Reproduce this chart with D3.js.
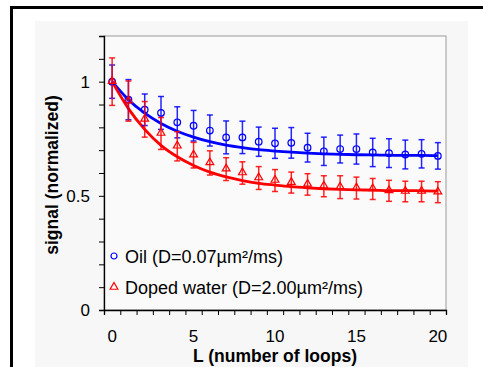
<!DOCTYPE html>
<html>
<head>
<meta charset="utf-8">
<script src="https://cdn.jsdelivr.net/npm/d3@7/dist/d3.min.js"></script>
<style>
  html, body { margin: 0; padding: 0; background: #fff; }
  svg { display: block; font-family: "Liberation Sans", Arial, sans-serif; }
</style>
</head>
<body>
<svg id="chart" width="483" height="367"></svg>
<script>
// loops
const loops = d3.range(0, 21);

// measured signal, oil
const oilValues = [1.0, 0.921, 0.877, 0.863, 0.822, 0.807, 0.786, 0.756, 0.756, 0.737, 0.730,
  0.732, 0.711, 0.695, 0.705, 0.705, 0.690, 0.687, 0.681, 0.684, 0.675];
const oilErrors = [0.073, 0.088, 0.069, 0.072, 0.068, 0.067, 0.068, 0.072, 0.071, 0.064, 0.066,
  0.067, 0.063, 0.062, 0.061, 0.066, 0.062, 0.063, 0.063, 0.062, 0.058];
const oilFit = [1.0, 0.921, 0.862, 0.817, 0.783, 0.757, 0.737, 0.722, 0.711, 0.702, 0.696,
  0.691, 0.687, 0.684, 0.682, 0.680, 0.679, 0.678, 0.677, 0.677, 0.676];

// measured signal, doped water
const waterValues = [1.0, 0.915, 0.835, 0.773, 0.717, 0.678, 0.644, 0.617, 0.600, 0.578, 0.567,
  0.558, 0.550, 0.542, 0.538, 0.534, 0.530, 0.522, 0.519, 0.519, 0.516];
const waterErrors = [0.104, 0.088, 0.078, 0.070, 0.064, 0.056, 0.053, 0.050, 0.049, 0.050, 0.048,
  0.046, 0.047, 0.046, 0.050, 0.048, 0.046, 0.046, 0.045, 0.045, 0.046];
const waterFit = [1.0, 0.882, 0.791, 0.721, 0.671, 0.633, 0.604, 0.583, 0.567, 0.555, 0.547,
  0.540, 0.535, 0.531, 0.528, 0.526, 0.525, 0.523, 0.523, 0.522, 0.521];

const xTickLabels = [0, 5, 10, 15, 20];
const yTickLabels = [0, 0.5, 1];

const series = [
  {name: 'Oil (D=0.07\u00b5m\u00b2/ms)', values: oilValues, errors: oilErrors, fit: oilFit, color: '#0000ff', marker: 'circle'},
  {name: 'Doped water (D=2.00\u00b5m\u00b2/ms)', values: waterValues, errors: waterErrors, fit: waterFit, color: '#ff0000', marker: 'triangle'}
];

const margin = {top: 36, right: 37, bottom: 57, left: 104};
const width = 483, height = 367;
const innerWidth = width - margin.left - margin.right;
const innerHeight = height - margin.top - margin.bottom;

const svg = d3.select('#chart');

// frame and panel
svg.append('rect')
  .attr('x', 35).attr('y', 21).attr('width', 433).attr('height', 346)
  .attr('fill', '#f7f7f7');
svg.append('path')
  .attr('d', `M11.5,${height}V7.5H${width}`)
  .attr('fill', 'none').attr('stroke', '#000').attr('stroke-width', 3);

const xScale = d3.scaleLinear().domain([-0.5, 20.5]).range([0, innerWidth]);
const yScale = d3.scaleLinear().domain([0, 1.2]).range([innerHeight, 0]);

const g = svg.append('g')
  .attr('transform', `translate(${margin.left},${margin.top})`);

g.append('rect')
  .attr('width', innerWidth).attr('height', innerHeight)
  .attr('fill', '#fafafa')
  .attr('stroke', '#9a9a9a').attr('stroke-width', 1);

// y axis with minor ticks
const yAxis = g.append('g')
  .call(d3.axisLeft(yScale).tickValues(d3.range(0, 12).map(d => d / 10)).tickSize(5).tickFormat(''));

// x axis, ticks between categories
const xAxis = g.append('g')
  .attr('transform', `translate(0,${innerHeight})`)
  .call(d3.axisBottom(xScale).tickValues(d3.range(-0.5, 21, 1)).tickSize(5).tickFormat(''));

[yAxis, xAxis].forEach(a => {
  a.select('.domain').attr('stroke', '#000').attr('stroke-width', 1.3);
  a.selectAll('.tick line').attr('stroke', '#000').attr('stroke-width', 1);
  a.selectAll('.tick text').remove();
});

// tick labels
g.append('g')
  .selectAll('text')
  .data(yTickLabels)
  .join('text')
  .attr('x', -14)
  .attr('y', d => yScale(d) + 6)
  .attr('text-anchor', 'end')
  .attr('font-size', 17)
  .text(d => d);

g.append('g')
  .selectAll('text')
  .data(xTickLabels)
  .join('text')
  .attr('x', d => xScale(d))
  .attr('y', innerHeight + 32)
  .attr('text-anchor', 'middle')
  .attr('font-size', 17)
  .text(d => d);

// axis titles
g.append('text')
  .attr('x', innerWidth / 2).attr('y', innerHeight + 52)
  .attr('text-anchor', 'middle')
  .attr('font-size', 17.5).attr('font-weight', 'bold')
  .text('L (number of loops)');

g.append('text')
  .attr('transform', `translate(-46,${innerHeight / 2 + 2}) rotate(-90)`)
  .attr('text-anchor', 'middle')
  .attr('font-size', 17.5).attr('font-weight', 'bold')
  .text('signal (normalized)');

const line = d3.line()
  .x((d, i) => xScale(loops[i]))
  .y(d => yScale(d))
  .curve(d3.curveMonotoneX);

const triangle = d3.symbol().type(d3.symbolTriangle).size(26);

function drawMarker(sel, s) {
  if (s.marker === 'circle') {
    sel.append('circle').attr('r', 3.3);
  } else {
    sel.append('path').attr('d', triangle).attr('transform', 'translate(0,-0.5)');
  }
  sel.selectAll('circle, path')
    .attr('fill', 'none').attr('stroke', s.color).attr('stroke-width', 1.2);
}

// fit curves first, then error bars and markers
series.forEach(s => {
  g.append('path')
    .datum(s.fit)
    .attr('fill', 'none')
    .attr('stroke', s.color)
    .attr('stroke-width', 2.8)
    .attr('d', line);
});

series.forEach(s => {
  const bars = g.append('g')
    .attr('stroke', s.color).attr('stroke-width', 1.5).attr('stroke-opacity', 0.85)
    .selectAll('g')
    .data(s.values)
    .join('g')
    .attr('transform', (d, i) => `translate(${xScale(loops[i])},0)`);
  bars.append('line')
    .attr('y1', (d, i) => yScale(d + s.errors[i]))
    .attr('y2', (d, i) => yScale(d - s.errors[i]));
  bars.append('line')
    .attr('x1', -3).attr('x2', 3)
    .attr('y1', (d, i) => yScale(d + s.errors[i]))
    .attr('y2', (d, i) => yScale(d + s.errors[i]));
  bars.append('line')
    .attr('x1', -3).attr('x2', 3)
    .attr('y1', (d, i) => yScale(d - s.errors[i]))
    .attr('y2', (d, i) => yScale(d - s.errors[i]));

  const pts = g.append('g')
    .selectAll('g')
    .data(s.values)
    .join('g')
    .attr('transform', (d, i) => `translate(${xScale(loops[i])},${yScale(d)})`);
  pts.each(function () { drawMarker(d3.select(this), s); });
});

// legend
const legend = g.append('g').attr('transform', 'translate(10,220)');
series.forEach((s, i) => {
  const row = legend.append('g').attr('transform', `translate(0,${i * 31.5})`);
  drawMarker(row.append('g'), s);
  row.selectAll('circle').attr('r', 3);
  row.append('text')
    .attr('x', 11).attr('y', 6.5)
    .attr('font-size', 18)
    .text(s.name);
});
</script>
</body>
</html>
